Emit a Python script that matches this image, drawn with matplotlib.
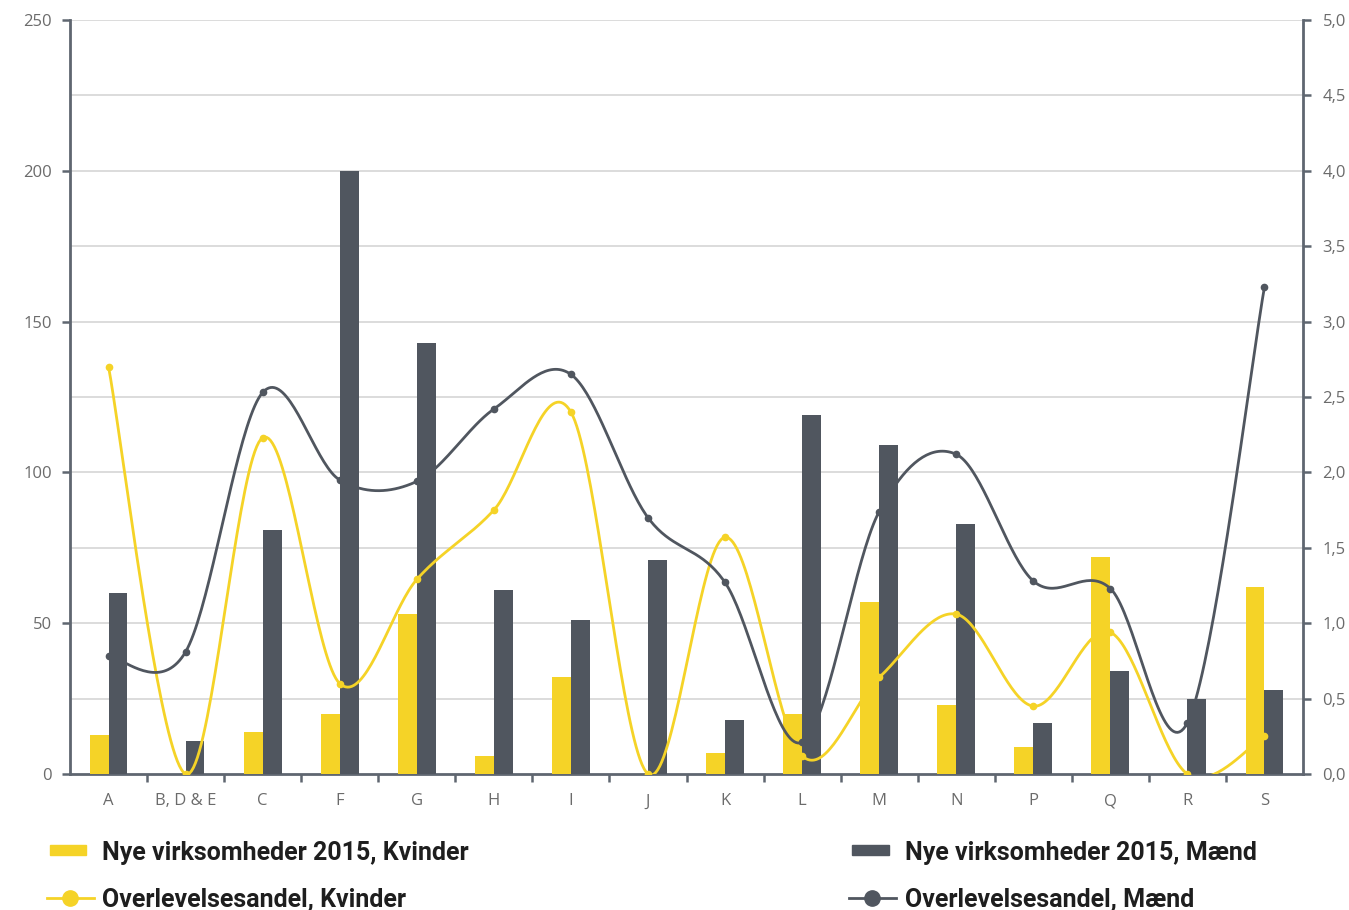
import numpy as np
import matplotlib
matplotlib.use("Agg")
import matplotlib.pyplot as plt
from matplotlib.lines import Line2D
from matplotlib.patches import Rectangle
from matplotlib.ticker import FuncFormatter

categories = ["A", "B, D & E", "C", "F", "G", "H", "I", "J", "K", "L", "M", "N", "P", "Q", "R", "S"]
nye_kvinder = [13, 0, 14, 20, 53, 6, 32, 0, 7, 20, 57, 23, 9, 72, 0, 62]
nye_maend = [60, 11, 81, 200, 143, 61, 51, 71, 18, 119, 109, 83, 17, 34, 25, 28]
overlev_kvinder = [2.70, 0.00, 2.23, 0.60, 1.29, 1.75, 2.40, 0.00, 1.57, 0.12, 0.64, 1.06, 0.45, 0.94, 0.00, 0.25]
overlev_maend = [0.78, 0.81, 2.53, 1.95, 1.94, 2.42, 2.65, 1.70, 1.27, 0.21, 1.74, 2.12, 1.28, 1.23, 0.34, 3.23]

YELLOW = "#F5D327"
DARK = "#50565F"
AXIS = "#5F6670"
TXT = "#6B6B6B"

def smooth(xs, ys, n=40):
    xs = np.asarray(xs, float); ys = np.asarray(ys, float)
    P = np.column_stack([xs, ys])
    out = []
    for i in range(len(P) - 1):
        p0 = P[i - 1] if i > 0 else P[i]
        p1 = P[i]; p2 = P[i + 1]
        p3 = P[i + 2] if i + 2 < len(P) else P[i + 1]
        c1 = p1 + (p2 - p0) / 6.0
        c2 = p2 - (p3 - p1) / 6.0
        t = np.linspace(0, 1, n)[:, None]
        seg = (1 - t) ** 3 * p1 + 3 * (1 - t) ** 2 * t * c1 + 3 * (1 - t) * t ** 2 * c2 + t ** 3 * p2
        out.append(seg if i == 0 else seg[1:])
    s = np.vstack(out)
    return s[:, 0], s[:, 1]

fig = plt.figure(figsize=(13.49, 9.10), dpi=100)
ax = fig.add_axes([70 / 1349, 136 / 910, (1303 - 70) / 1349, (774 - 20) / 910])
ax2 = ax.twinx()

x = np.arange(len(categories))
w = 0.245
ax.bar(x - w / 2, nye_kvinder, width=w, color=YELLOW, zorder=3)
ax.bar(x + w / 2, nye_maend, width=w, color=DARK, zorder=3)

ax.set_xlim(-0.5, len(categories) - 0.5)
ax.set_ylim(0, 250)
ax2.set_ylim(0, 5)

for yv in np.arange(25, 251, 25):
    ax.axhline(yv, color="#D9D9D9", lw=1.3, zorder=1)

sx, sy = smooth(x, overlev_kvinder)
ax2.plot(sx, sy, color=YELLOW, lw=2.0, zorder=4)
ax2.plot(x, overlev_kvinder, "o", color=YELLOW, ms=4.5, zorder=5)
sx, sy = smooth(x, overlev_maend)
ax2.plot(sx, sy, color=DARK, lw=2.0, zorder=4)
ax2.plot(x, overlev_maend, "o", color=DARK, ms=4.5, zorder=5)

ax.set_yticks(np.arange(0, 251, 50))
ax2.set_yticks(np.arange(0, 5.01, 0.5))
ax2.yaxis.set_major_formatter(FuncFormatter(lambda v, p: f"{v:.1f}".replace(".", ",")))

ax.set_xticks(np.arange(0.5, len(categories) - 1, 1.0))
ax.set_xticklabels([])
ax.set_xticks(x, minor=True)
ax.set_xticklabels(categories, minor=True)
ax.tick_params(axis="x", which="minor", length=0, pad=14)
ax.tick_params(axis="x", which="major", length=6, width=1.8, color=AXIS)

for lab in ax.get_xticklabels(minor=True) + ax.get_yticklabels() + ax2.get_yticklabels():
    lab.set_fontfamily(["Open Sans", "DejaVu Sans"])
    lab.set_fontsize(12)
    lab.set_color(TXT)
ax.tick_params(axis="y", length=6, width=1.8, color=AXIS, pad=7)
ax2.tick_params(axis="y", length=6, width=1.8, color=AXIS, pad=8)

for a in (ax, ax2):
    a.spines["top"].set_visible(False)
    for s in ("left", "right", "bottom"):
        a.spines[s].set_color(AXIS)
        a.spines[s].set_linewidth(2.0)
ax.spines["right"].set_visible(False)
ax2.spines["left"].set_visible(False)
ax2.spines["bottom"].set_visible(False)
ax.set_facecolor("none")

# legend (manual)
W, H = 1349.0, 910.0
leg_font = dict(family=["Roboto", "DejaVu Sans"], weight="bold", size=18, color="#1E1E1E")

def fx(px): return px / W
def fy(py): return 1 - py / H

fig.patches.append(Rectangle((fx(50), fy(855)), (86 - 50) / W, 10 / H, transform=fig.transFigure, color=YELLOW))
fig.text(fx(102), fy(853), "Nye virksomheder 2015, Kvinder", va="center", ha="left", **leg_font)
fig.patches.append(Rectangle((fx(852), fy(855)), (889 - 852) / W, 10 / H, transform=fig.transFigure, color=DARK))
fig.text(fx(905), fy(853), "Nye virksomheder 2015, Mænd", va="center", ha="left", **leg_font)

fig.lines.append(Line2D([fx(47), fx(94)], [fy(898), fy(898)], transform=fig.transFigure, color=YELLOW, lw=2.0))
fig.lines.append(Line2D([fx(70)], [fy(898)], transform=fig.transFigure, marker="o", ms=11, color=YELLOW))
fig.text(fx(102), fy(899), "Overlevelsesandel, Kvinder", va="center", ha="left", **leg_font)
fig.lines.append(Line2D([fx(849), fx(896)], [fy(898), fy(898)], transform=fig.transFigure, color=DARK, lw=2.0))
fig.lines.append(Line2D([fx(872)], [fy(898)], transform=fig.transFigure, marker="o", ms=11, color=DARK))
fig.text(fx(905), fy(899), "Overlevelsesandel, Mænd", va="center", ha="left", **leg_font)

fig.savefig("out.png", dpi=100, facecolor="white")
